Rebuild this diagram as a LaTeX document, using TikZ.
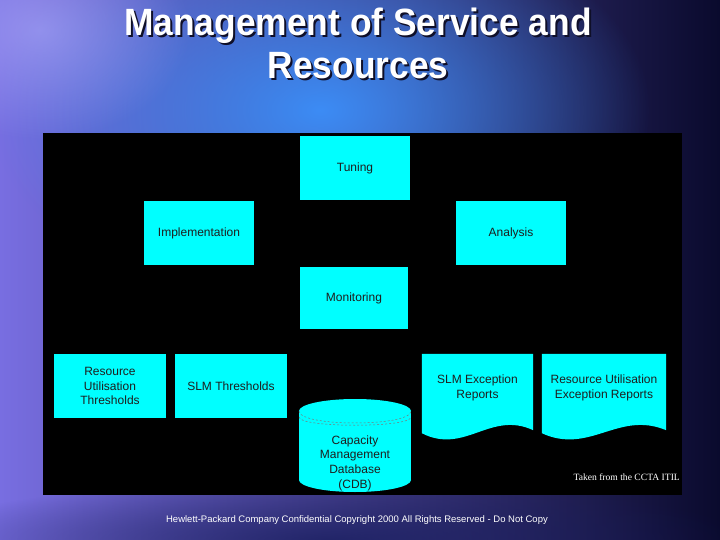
\documentclass[tikz,border=0pt]{standalone}
\usepackage{fontspec}
\setmainfont{Liberation Sans}
\newfontfamily\serifnote{Liberation Serif}
\newfontfamily\titlefont[FakeStretch=0.93]{Liberation Sans}
\usetikzlibrary{fadings, backgrounds}
\definecolor{slidecyan}{RGB}{0,255,255}
\definecolor{boxtext}{RGB}{30,30,30}
\definecolor{skylilac}{RGB}{120,110,225}
\definecolor{skynight}{RGB}{10,10,45}
\definecolor{skyblue}{RGB}{60,140,245}
\definecolor{skypale}{RGB}{170,170,250}
\definecolor{skydeep}{RGB}{25,30,95}
\definecolor{titleshade}{RGB}{15,15,40}
\tikzfading[name=softglow, inner color=transparent!0, outer color=transparent!100]

\begin{document}
\begin{tikzpicture}[
  x=1pt, y=-1pt,
  stepbox/.style={rectangle, fill=slidecyan, text=boxtext, align=center, inner sep=0pt,
    minimum width=110pt, minimum height=64pt, font=\fontsize{12}{14.6}\selectfont},
  report/.style={stepbox, fill=none},
  slidetitle/.style={font=\titlefont\fontsize{38}{43}\selectfont\bfseries, align=center, anchor=base},
  smallprint/.style={text=white, inner sep=0pt, anchor=base}
]
\useasboundingbox (0,0) rectangle (720,540);

\node[slidetitle, text=titleshade] (titleback) at (360,38) {Management of Service and};
\node[slidetitle, text=white] (title) at (358,36) {Management of Service and};
\node[slidetitle, text=titleshade] (subtitleback) at (360,81) {Resources};
\node[slidetitle, text=white] (subtitle) at (358,79) {Resources};

\node[stepbox] (tuning) at (355,168) {Tuning};
\node[stepbox] (implementation) at (199,233) {Implementation};
\node[stepbox] (analysis) at (511,233) {Analysis};
\node[stepbox, minimum width=108pt, minimum height=62pt] (monitoring) at (354,298) {Monitoring};
\node[stepbox, minimum width=112pt] (resthresholds) at (110,386) {Resource\\Utilisation\\Thresholds};
\node[stepbox, minimum width=112pt] (slmthresholds) at (231,386) {SLM Thresholds};
\node[report, minimum width=111pt, minimum height=68pt] (slmexc) at (477.5,388) {SLM Exception\\Reports};
\node[report, minimum width=124pt, minimum height=68pt] (resexc) at (604,388) {Resource Utilisation\\Exception Reports};
\node[report, minimum width=112pt, minimum height=60pt] (cdb) at (355,463) {Capacity\\Management\\Database\\(CDB)};

\node[smallprint, anchor=base east, font=\serifnote\fontsize{9.6}{11}\selectfont] (source) at (680,480) {Taken from the CCTA ITIL};
\node[smallprint, font=\fontsize{9.5}{11}\selectfont] (footer) at (357,522) {Hewlett-Packard Company Confidential Copyright 2000 All Rights Reserved - Do Not Copy};

\begin{pgfonlayer}{background}
\shade[left color=skylilac, right color=skynight] (0,0) rectangle (720,540);
\fill[skyblue, path fading=softglow] (320,110) ellipse [x radius=330, y radius=200];
\fill[skypale, path fading=softglow, opacity=.6] (40,30) ellipse [x radius=150, y radius=110];
\fill[skydeep, path fading=softglow, opacity=.8] (330,540) ellipse [x radius=420, y radius=60];
\fill[black] (43,133) rectangle (682,495);
\foreach \doc/\c in {slmexc/43, resexc/48}
  \fill[slidecyan] (\doc.north west) -- (\doc.north east) -- ([yshift=-8pt]\doc.south east)
    .. controls +(-\c,-20) and +(\c,22) .. ([yshift=-11pt]\doc.south west) -- cycle;
\fill[slidecyan] (299,411) rectangle (411,480);
\fill[slidecyan] (355,411) ellipse [x radius=56, y radius=12];
\fill[slidecyan] (355,480) ellipse [x radius=56, y radius=12];
\draw[boxtext!60, dash pattern=on 2pt off 2pt, line width=.5pt] (299,411) .. controls (299,427) and (411,427) .. (411,411);
\draw[boxtext!60, dash pattern=on 2pt off 2pt, line width=.5pt] (299,417) .. controls (299,428) and (411,428) .. (411,417);
\end{pgfonlayer}
\end{tikzpicture}
\end{document}
